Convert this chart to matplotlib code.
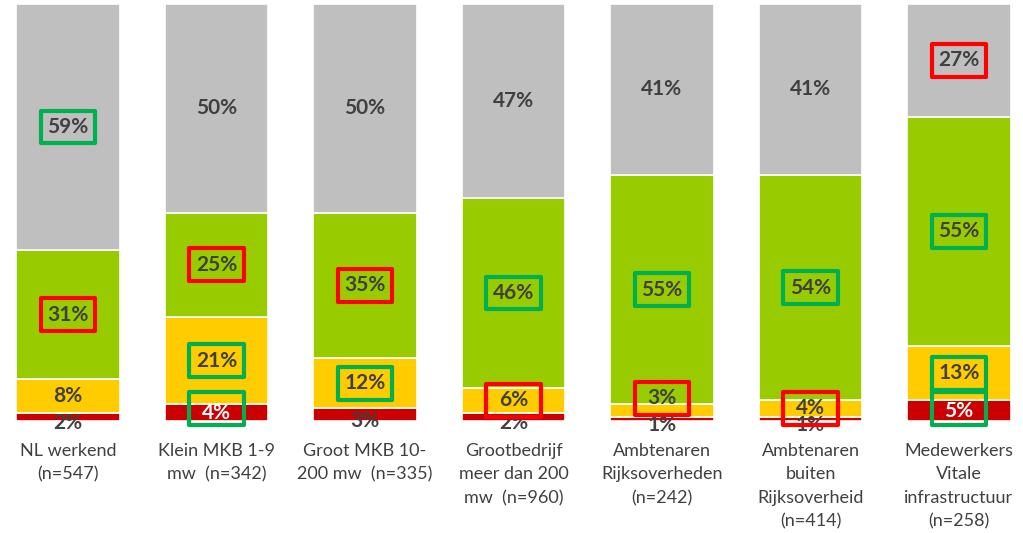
import matplotlib
matplotlib.use("Agg")
import matplotlib.pyplot as plt
from matplotlib.patches import Rectangle

# categories and series (percentages)
categories = ["NL werkend\n(n=547)", "Klein MKB 1-9\nmw  (n=342)", "Groot MKB 10-\n200 mw  (n=335)",
              "Grootbedrijf\nmeer dan 200\nmw  (n=960)", "Ambtenaren\nRijksoverheden\n(n=242)",
              "Ambtenaren\nbuiten\nRijksoverheid\n(n=414)", "Medewerkers\nVitale\ninfrastructuur\n(n=258)"]
red = [2, 4, 3, 2, 1, 1, 5]
yellow = [8, 21, 12, 6, 3, 4, 13]
green = [31, 25, 35, 46, 55, 54, 55]
gray = [59, 50, 50, 47, 41, 41, 27]

# highlight boxes: (bar, segment) -> outline colour
boxes = {
    (0, "gray"): "g", (0, "green"): "r",
    (1, "green"): "r", (1, "yellow"): "g", (1, "red"): "g",
    (2, "green"): "r", (2, "yellow"): "g",
    (3, "green"): "g", (3, "yellow"): "r",
    (4, "green"): "g", (4, "yellow"): "r",
    (5, "green"): "g", (5, "yellow"): "r",
    (6, "gray"): "r", (6, "green"): "g", (6, "yellow"): "g", (6, "red"): "g",
}
box_colors = {"g": "#00B050", "r": "#FF0000"}
# label nudges for crowded small segments
label_dy = {(4, "yellow"): 3.0}

series = [("red", red, "#CC0000"), ("yellow", yellow, "#FFCC00"),
          ("green", green, "#99CC00"), ("gray", gray, "#BFBFBF")]

fig = plt.figure(figsize=(10.23, 5.33), dpi=100)
ax = fig.add_axes([0, 112 / 533, 1, 417 / 533])
ax.set_xlim(-68 / 148.5, (1023 - 68) / 148.5)
ax.set_ylim(0, 100)
ax.axis("off")

x = list(range(len(categories)))
totals = [sum(s[1][i] for s in series) for i in x]
bottoms = [0.0] * len(x)
bw, bh = 0.37, 7.9

for name, vals, col in series:
    heights = [vals[i] * 100 / totals[i] for i in x]
    ax.bar(x, heights, width=0.7, bottom=bottoms, color=col, edgecolor="white", linewidth=1.2)
    for i in x:
        yc = bottoms[i] + heights[i] / 2 + label_dy.get((i, name), 0)
        tc = "#404040"
        if name == "red":
            if vals[i] >= 4:
                tc = "white"
            else:
                yc -= 1.5
        ax.text(i, yc, f"{vals[i]}%", ha="center", va="center", fontsize=15,
                fontweight="bold", color=tc, family="Lato", zorder=5)
        if (i, name) in boxes:
            by = max(yc, 3.0)
            ax.add_patch(Rectangle((i - bw / 2, by - bh / 2), bw, bh, fill=False,
                                   edgecolor=box_colors[boxes[(i, name)]], linewidth=3,
                                   joinstyle="round", zorder=6, clip_on=False))
        bottoms[i] += heights[i]

for i, lab in enumerate(categories):
    ax.text(i, -5.2, lab, ha="center", va="top", fontsize=13, color="#404040",
            family="Lato", linespacing=1.58, clip_on=False)

fig.savefig("out.png", dpi=100)
